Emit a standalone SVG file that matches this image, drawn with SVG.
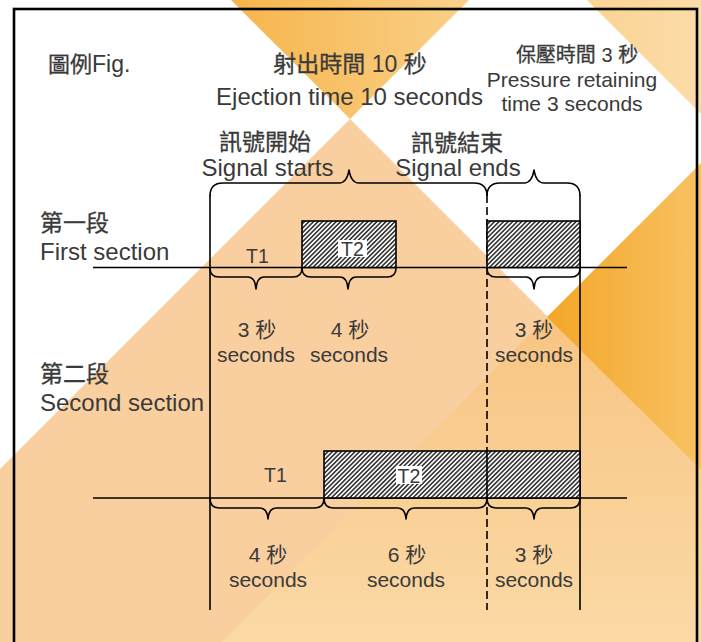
<svg xmlns="http://www.w3.org/2000/svg" width="701" height="642" viewBox="0 0 701 642">
  <style>
    text { font-family: "Liberation Sans", "Noto Sans CJK TC", sans-serif; fill: #3a3a3a; }
    .h { font-size: 23px; stroke: #3a3a3a; stroke-width: 0.3; }
    .n { stroke: none; }
    .l { font-size: 24px; }
    .m { font-size: 21px; }
    .t { font-size: 19.5px; }
    .c { text-anchor: middle; }
    .ln { stroke: #000; stroke-width: 1.6; fill: none; }
    .br { stroke: #000; stroke-width: 1.6; fill: none; stroke-linejoin: round; }
    .hr { fill: url(#hatch); stroke: #000; stroke-width: 1.6; }
  </style>
  <defs>
    <pattern id="hatch" width="3.2" height="3.2" patternUnits="userSpaceOnUse" patternTransform="rotate(45)">
      <rect width="3.2" height="3.2" fill="#fafafa"/>
      <line x1="0.8" y1="0" x2="0.8" y2="3.2" stroke="#2a2a2a" stroke-width="1.5"/>
    </pattern>
    <linearGradient id="gTop" x1="231" y1="0" x2="469" y2="0" gradientUnits="userSpaceOnUse">
      <stop offset="0" stop-color="#f6b54a"/>
      <stop offset="1" stop-color="#fad08a"/>
    </linearGradient>
    <linearGradient id="gRight" x1="547" y1="0" x2="701" y2="0" gradientUnits="userSpaceOnUse">
      <stop offset="0" stop-color="#f4a628"/>
      <stop offset="1" stop-color="#f8c263"/>
    </linearGradient>
    <linearGradient id="gTR" x1="587" y1="0" x2="701" y2="0" gradientUnits="userSpaceOnUse">
      <stop offset="0" stop-color="#fbd393"/>
      <stop offset="1" stop-color="#fcdca8"/>
    </linearGradient>
    <linearGradient id="gBR" x1="0" y1="317" x2="0" y2="642" gradientUnits="userSpaceOnUse">
      <stop offset="0" stop-color="#f8c582"/>
      <stop offset="1" stop-color="#fbd9a6"/>
    </linearGradient>
  </defs>

  <g id="background">
    <rect x="0" y="0" width="701" height="642" fill="#fff"/>
    <polygon points="231,0 469,0 350,119" fill="url(#gTop)"/>
    <polygon points="587,0 701,0 701,114" fill="url(#gTR)"/>
    <polygon points="350,119 0,469 0,642 701,642 701,470" fill="#f9cfa0"/>
    <polygon points="547,317 222,642 701,642 701,470" fill="url(#gBR)"/>
    <polygon points="547,317 701,163 701,470" fill="url(#gRight)"/>
    <rect x="14" y="9" width="683" height="660" fill="none" stroke="#000" stroke-width="2.6"/>
  </g>

  <g id="titles">
    <text x="48" y="72" class="h" style="font-size:22px">圖例<tspan class="n" style="font-size:23px">Fig.</tspan></text>
    <text x="350" y="72" class="h c">射出時間<tspan class="n"> 10 </tspan>秒</text>
    <text x="349.5" y="105" class="l c">Ejection time 10 seconds</text>
    <text x="577" y="62" class="h c" style="font-size:20px">保壓時間<tspan class="n"> 3 </tspan>秒</text>
    <text x="572" y="87" class="m c">Pressure retaining</text>
    <text x="572" y="111" class="m c">time 3 seconds</text>
  </g>

  <g id="node-signal-starts">
    <text x="265" y="150" class="h c">訊號開始</text>
    <text x="267.5" y="176" class="l c">Signal starts</text>
  </g>
  <g id="node-signal-ends">
    <text x="457" y="151" class="h c">訊號結束</text>
    <text x="458" y="176" class="l c">Signal ends</text>
  </g>

  <g id="node-first-section">
    <text x="40" y="231" class="h">第一段</text>
    <text x="40" y="260" class="l">First section</text>
  </g>
  <g id="node-second-section">
    <text x="40" y="382" class="h">第二段</text>
    <text x="40" y="411" class="l">Second section</text>
  </g>

  <g id="connectors">
    <line class="ln" x1="93" y1="267.5" x2="627" y2="267.5"/>
    <line class="ln" x1="93" y1="498" x2="627" y2="498"/>
    <line class="ln" x1="210" y1="195" x2="210" y2="610"/>
    <line class="ln" x1="580" y1="195" x2="580" y2="610"/>
    <line class="ln" x1="487" y1="195" x2="487" y2="610" stroke-dasharray="8,4"/>
    <path class="br" d="M210,196 Q210,183 223,183 L339,183 Q347,183 349,170 Q351,183 359,183 L474,183 Q487,183 487,196"/>
    <path class="br" d="M487,196 Q487,183 500,183 L524,183 Q532,183 534,170 Q536,183 544,183 L567,183 Q580,183 580,196"/>
    <path class="br" d="M210,268 Q210,277 219,277 L248,277 Q255,277 256,289 Q257,277 264,277 L293,277 Q302,277 302,268"/>
    <path class="br" d="M302,268 Q302,277 311,277 L340,277 Q347,277 348,289 Q349,277 356,277 L387,277 Q396,277 396,268"/>
    <path class="br" d="M487,268 Q487,277 496,277 L526,277 Q533,277 534,289 Q535,277 542,277 L571,277 Q580,277 580,268"/>
    <path class="br" d="M210,498 Q210,508 219,508 L260,508 Q267,508 268,519 Q269,508 276,508 L315,508 Q324,508 324,498"/>
    <path class="br" d="M324,498 Q324,508 333,508 L398,508 Q405,508 406,519 Q407,508 414,508 L478,508 Q487,508 487,498"/>
    <path class="br" d="M487,498 Q487,508 496,508 L526,508 Q533,508 534,519 Q535,508 542,508 L571,508 Q580,508 580,498"/>
  </g>

  <g id="node-first-t1">
    <text x="257.5" y="263" class="t c">T1</text>
  </g>
  <g id="node-first-t2">
    <rect class="hr" x="302" y="221" width="94" height="46.5"/>
    <rect x="338" y="240" width="29" height="17" fill="#fff"/>
    <text x="352.5" y="256" class="t c">T2</text>
  </g>
  <g id="node-first-hold">
    <rect class="hr" x="487" y="221" width="93" height="46.5"/>
  </g>

  <g id="node-second-t1">
    <text x="275.5" y="482" class="t c">T1</text>
  </g>
  <g id="node-second-t2">
    <rect class="hr" x="324" y="451" width="256" height="47"/>
    <line class="ln" x1="487" y1="451" x2="487" y2="498"/>
    <rect x="396" y="466" width="26" height="18" fill="#fff"/>
    <text x="409" y="483" class="t c">T2</text>
  </g>

  <g id="durations-first">
    <text x="257" y="337" class="m c">3 秒</text>
    <text x="256" y="362" class="m c">seconds</text>
    <text x="350" y="337" class="m c">4 秒</text>
    <text x="349" y="362" class="m c">seconds</text>
    <text x="534" y="337" class="m c">3 秒</text>
    <text x="534" y="362" class="m c">seconds</text>
  </g>
  <g id="durations-second">
    <text x="268" y="562" class="m c">4 秒</text>
    <text x="268" y="587" class="m c">seconds</text>
    <text x="407" y="562" class="m c">6 秒</text>
    <text x="406" y="587" class="m c">seconds</text>
    <text x="534" y="562" class="m c">3 秒</text>
    <text x="534" y="587" class="m c">seconds</text>
  </g>
</svg>
